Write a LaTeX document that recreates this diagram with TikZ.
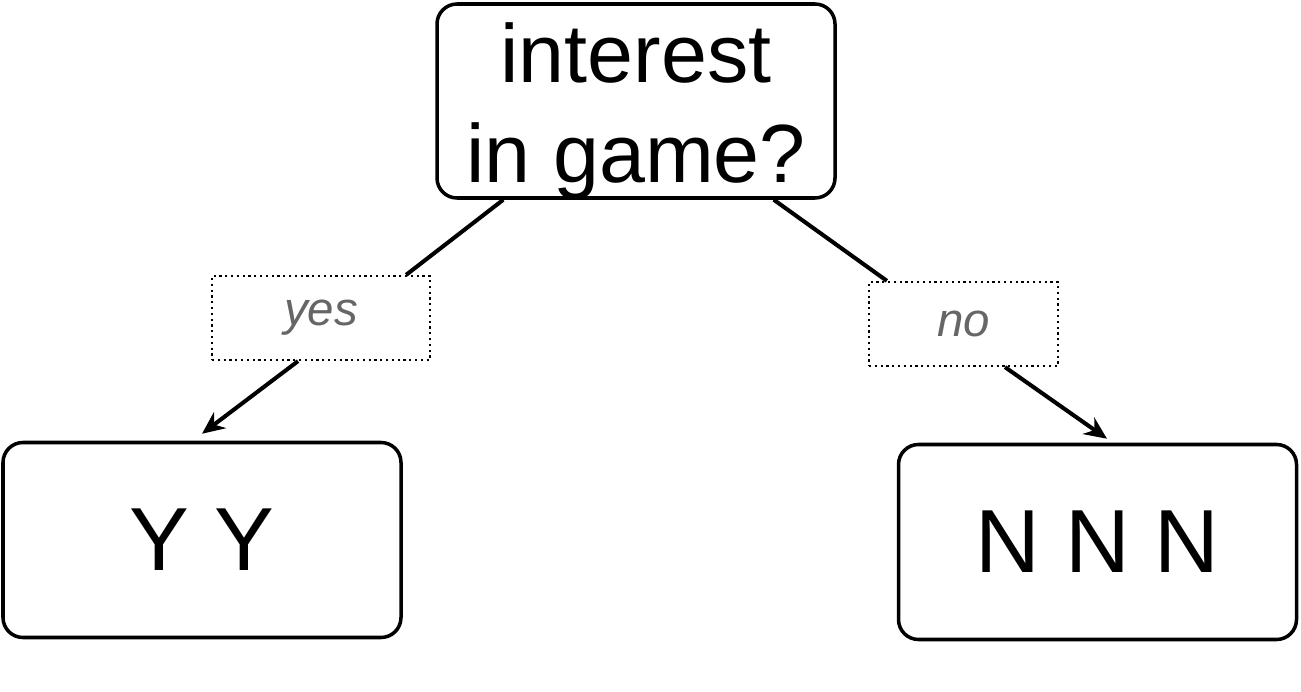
\documentclass[tikz,border=0pt]{standalone}
\usepackage{fontspec}
\setmainfont{Liberation Sans}
\usetikzlibrary{positioning,arrows.meta}

\tikzset{
    treebox/.style={draw, line width=2pt, rounded corners=0.4cm, minimum width=7.96cm, minimum height=3.9cm, align=center, font=\fontsize{51}{54}\selectfont},
    edgelbl/.style={draw, dotted, line width=1.3pt, minimum height=1.68cm, text=black!60, font=\fontsize{27}{30}\selectfont\itshape},
    branch/.style={line width=2.3pt},
}

\begin{document}
\begin{tikzpicture}
    \useasboundingbox (0,0) rectangle (26.02,13.82);

    % the question and its two leaves
    \node[treebox, minimum height=3.88cm,
          label={[align=center, yshift=-0.2cm, font=\fontsize{47}{57}\selectfont]center:interest\\in game?}] (root) at (12.72,11.80) {};
    \node[treebox] (yesleaf) at (4.04,3.02) {Y Y};
    \node[treebox] (noleaf) at (21.95,2.98) {N N N};

    % labels on the branches
    \node[edgelbl, minimum width=4.36cm] (yeslbl) at (6.42,7.46) {yes};
    \node[edgelbl, minimum width=3.78cm] (nolbl) at (19.27,7.34) {no};

    % branches
    \draw[branch] ([xshift=1.36cm]root.south west) -- ([xshift=-0.5cm]yeslbl.north east);
    \draw[branch, -{Stealth[length=0.45cm, width=0.4cm]}] ([xshift=-0.46cm]yeslbl.south) -- ([yshift=0.14cm]yesleaf.north);
    \draw[branch] ([xshift=-1.26cm]root.south east) -- ([xshift=0.38cm]nolbl.north west);
    \draw[branch, -{Stealth[length=0.45cm, width=0.4cm]}] ([xshift=0.83cm]nolbl.south) -- ([xshift=0.19cm, yshift=0.08cm]noleaf.north);
\end{tikzpicture}
\end{document}
